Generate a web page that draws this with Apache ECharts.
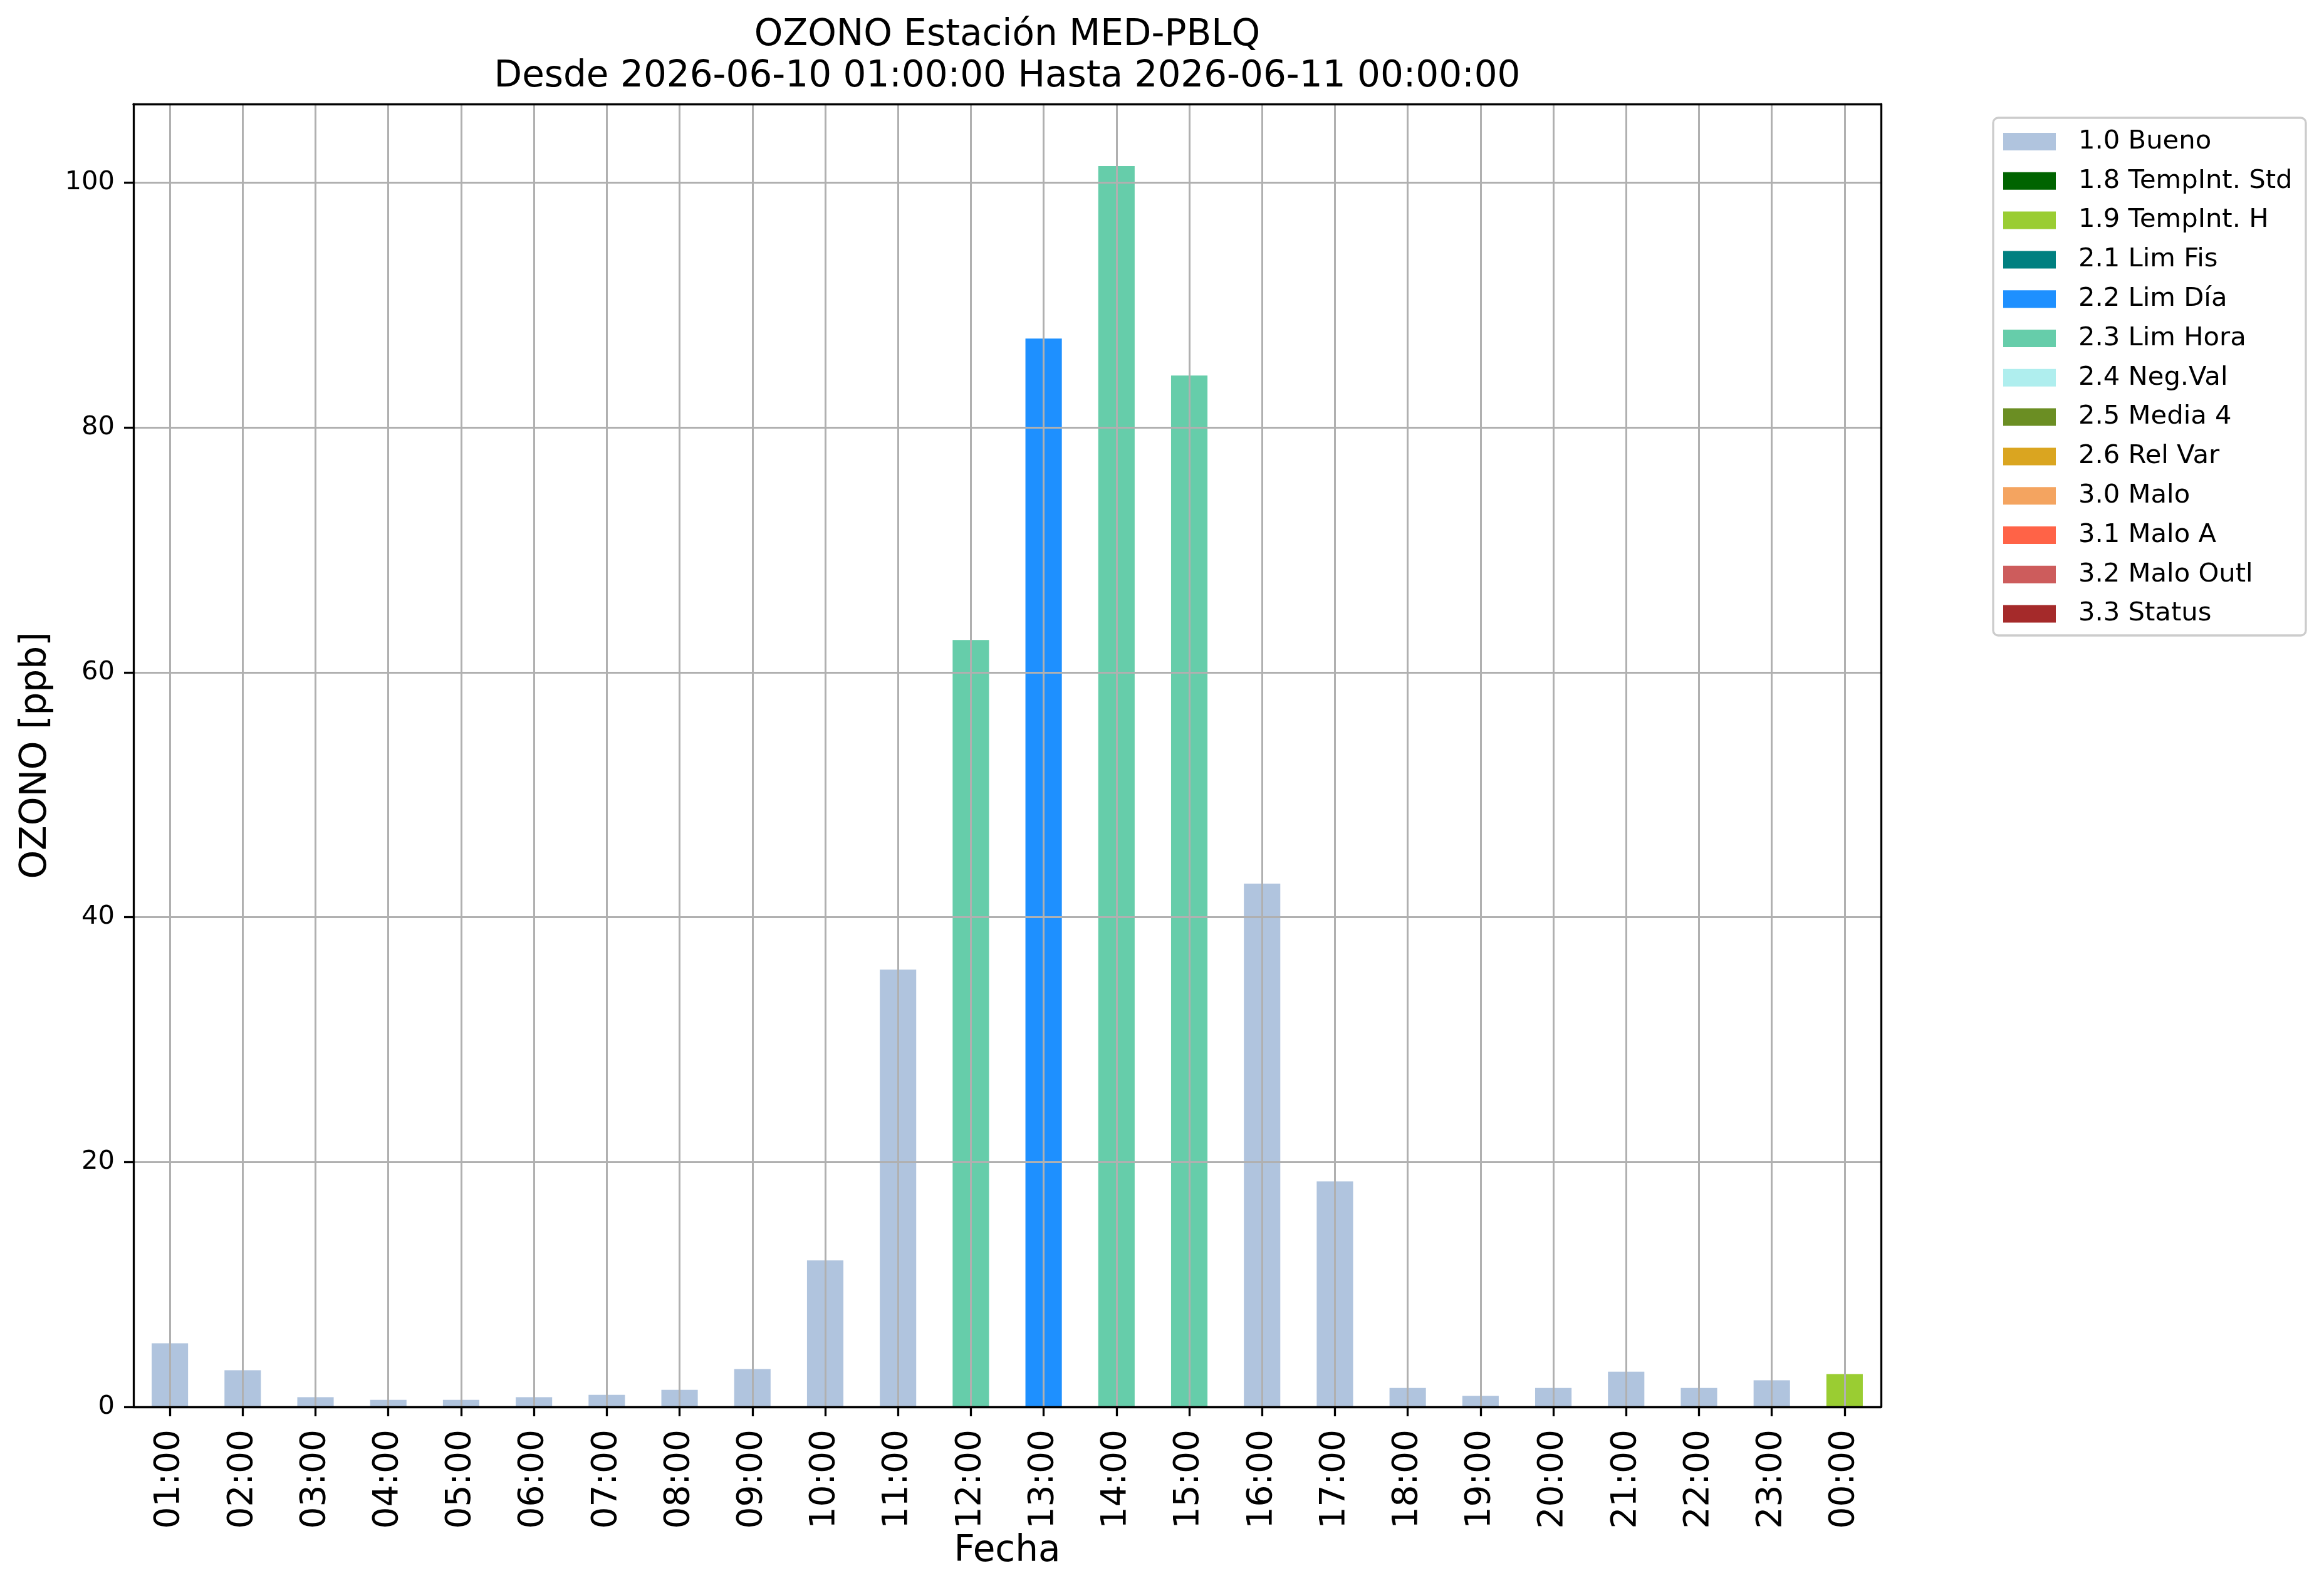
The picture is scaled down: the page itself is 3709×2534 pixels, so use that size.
<!DOCTYPE html>
<html>
<head>
<meta charset="utf-8">
<script src="https://cdn.jsdelivr.net/npm/echarts@6/dist/echarts.min.js"></script>
<style>
html,body{margin:0;padding:0;background:#fff;}
#chart{width:3709px;height:2534px;}
</style>
</head>
<body>
<div id="chart"></div>
<script>
// ---- data ----
const hours = ['01:00','02:00','03:00','04:00','05:00','06:00','07:00','08:00','09:00','10:00','11:00','12:00',
  '13:00','14:00','15:00','16:00','17:00','18:00','19:00','20:00','21:00','22:00','23:00','00:00'];
const ozone = [5.19, 2.99, 0.79, 0.58, 0.58, 0.79, 0.99, 1.40, 3.09, 11.97, 35.72, 62.65,
  87.27, 101.36, 84.25, 42.74, 18.42, 1.55, 0.89, 1.55, 2.88, 1.55, 2.17, 2.68];
const hourFlags = ['1.0 Bueno','1.0 Bueno','1.0 Bueno','1.0 Bueno','1.0 Bueno','1.0 Bueno','1.0 Bueno','1.0 Bueno',
  '1.0 Bueno','1.0 Bueno','1.0 Bueno','2.3 Lim Hora','2.2 Lim Día','2.3 Lim Hora','2.3 Lim Hora','1.0 Bueno',
  '1.0 Bueno','1.0 Bueno','1.0 Bueno','1.0 Bueno','1.0 Bueno','1.0 Bueno','1.0 Bueno','1.9 TempInt. H'];
const flagNames = ['1.0 Bueno','1.8 TempInt. Std','1.9 TempInt. H','2.1 Lim Fis','2.2 Lim Día','2.3 Lim Hora',
  '2.4 Neg.Val','2.5 Media 4','2.6 Rel Var','3.0 Malo','3.1 Malo A','3.2 Malo Outl','3.3 Status'];
const flagColors = ['#B0C4DE','#006400','#9ACD32','#008080','#1E90FF','#66CDAA',
  '#AFEEEE','#6B8E23','#DAA520','#F4A460','#FF6347','#CD5C5C','#A52A2A'];
const yTicks = [0, 20, 40, 60, 80, 100];
const titleLines = ['OZONO Estación MED-PBLQ', 'Desde 2026-06-10 01:00:00 Hasta 2026-06-11 00:00:00'];

// ---- chart ----
const FONT = '"DejaVu Sans"';
const yMax = Math.max.apply(null, ozone) * 1.05;
const chart = echarts.init(document.getElementById('chart'), null, {renderer: 'canvas'});

const series = flagNames.map((name, i) => ({
  name: name,
  type: 'bar',
  stack: 'total',
  barWidth: '50%',
  itemStyle: {color: flagColors[i]},
  data: ozone.map((v, j) => hourFlags[j] === name ? v : '-'),
  z: 2
}));

const spineStyle = {color: '#000', width: 3.3};

chart.setOption({
  animation: false,
  backgroundColor: '#fff',
  textStyle: {fontFamily: FONT},
  grid: {left: 213, right: 707, top: 166, bottom: 289, containLabel: false},
  graphic: [
    {type: 'text', z: 10, style: {text: titleLines[0], x: 1607.5, y: 57, align: 'center', verticalAlign: 'middle',
      font: '58px ' + FONT, fill: '#000'}},
    {type: 'text', z: 10, style: {text: titleLines[1], x: 1607.5, y: 123, align: 'center', verticalAlign: 'middle',
      font: '58px ' + FONT, fill: '#000'}},
    {type: 'rect', z: 0, shape: {x: 3181, y: 188, width: 499, height: 826, r: 8},
      style: {fill: '#fff', stroke: '#cccccc', lineWidth: 3.3}}
  ],
  legend: {
    data: flagNames,
    orient: 'vertical',
    left: 3197,
    top: 205,
    padding: 0,
    itemWidth: 84,
    itemHeight: 28,
    itemGap: 20.8,
    icon: 'rect',
    selectedMode: false,
    textStyle: {fontFamily: FONT, fontSize: 41.7, color: '#000', padding: [0, 0, 0, 31]}
  },
  xAxis: [{
    type: 'category',
    data: hours,
    z: 6,
    name: 'Fecha',
    nameLocation: 'middle',
    nameGap: 196,
    nameTextStyle: {fontFamily: FONT, fontSize: 58, color: '#000'},
    axisLine: {show: true, onZero: false, lineStyle: spineStyle},
    axisTick: {show: true, alignWithLabel: true, length: 15, lineStyle: spineStyle},
    axisLabel: {interval: 0, rotate: 90, margin: 36, fontFamily: FONT, fontSize: 55, color: '#000'},
    splitLine: {show: true, alignWithLabel: true, interval: 0, lineStyle: {color: '#b0b0b0', width: 3}}
  }, {
    type: 'category',
    data: hours,
    position: 'top',
    z: 7,
    axisLine: {show: true, onZero: false, lineStyle: spineStyle},
    axisTick: {show: false},
    axisLabel: {show: false},
    splitLine: {show: false}
  }],
  yAxis: [{
    type: 'value',
    min: 0,
    max: yMax,
    interval: 20,
    z: 5,
    name: 'OZONO [ppb]',
    nameLocation: 'middle',
    nameRotate: 90,
    nameGap: 126,
    nameTextStyle: {fontFamily: FONT, fontSize: 58, color: '#000'},
    axisLine: {show: true, onZero: false, lineStyle: spineStyle},
    axisTick: {show: true, length: 15, lineStyle: spineStyle, customValues: yTicks},
    axisLabel: {margin: 30, fontFamily: FONT, fontSize: 41.7, color: '#000', customValues: yTicks},
    splitLine: {show: true, lineStyle: {color: '#b0b0b0', width: 3}}
  }, {
    type: 'value',
    min: 0,
    max: yMax,
    position: 'right',
    z: 7,
    axisLine: {show: true, onZero: false, lineStyle: spineStyle},
    axisTick: {show: false},
    axisLabel: {show: false},
    splitLine: {show: false}
  }],
  series: series
});
</script>
</body>
</html>
